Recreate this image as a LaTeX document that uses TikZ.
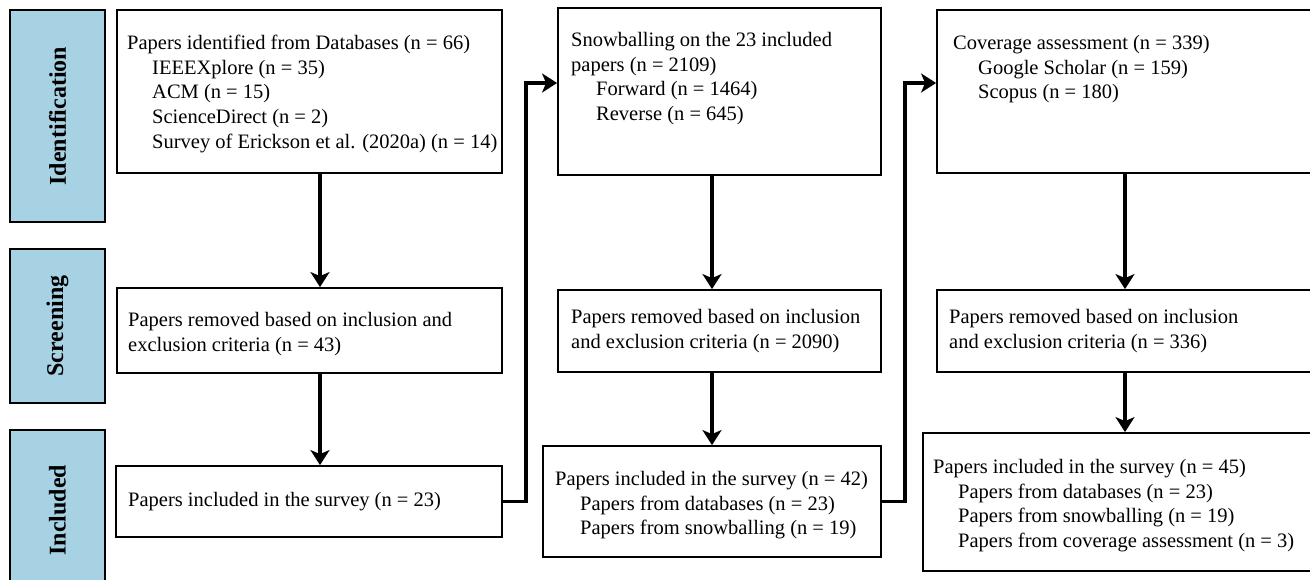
\documentclass[tikz,border=0pt]{standalone}
\usepackage{fontspec}
\setmainfont{Liberation Serif}
\usetikzlibrary{arrows.meta}

\definecolor{stageblue}{RGB}{167,210,227}
\newcommand{\idt}{\hspace*{25pt}}

\begin{document}
\begin{tikzpicture}[
                x=1pt, y=-1pt,
                stage/.style={draw, line width=1.6pt, fill=stageblue, rotate=90, inner sep=0pt,
                    font=\fontsize{24}{28}\selectfont\bfseries},
                stepbox/.style={draw, line width=1.8pt, inner sep=0pt},
                txt/.style={anchor=north west, inner sep=0pt, align=left,
                    font=\fontsize{20.5}{24.6}\selectfont},
                flow/.style={line width=3.5pt, -{Stealth[length=15pt, width=19pt, inset=4pt]}}
            ]
            \useasboundingbox (0, 0) rectangle (1310, 579);

            \node[stage, minimum width=212, minimum height=95] (stageid) at (57.5, 116) {Identification};
            \node[stage, minimum width=154, minimum height=95] (stagescr) at (57.5, 326) {Screening};
            \node[stage, minimum width=160, minimum height=95] (stageinc) at (57.5, 510) {Included};

            \node[stepbox, minimum width=385, minimum height=163] (ident1) at (309.5, 91.5) {};
            \node[stepbox, minimum width=385, minimum height=85] (screen1) at (309.5, 330.5) {};
            \node[stepbox, minimum width=386, minimum height=71] (incl1) at (309, 501.5) {};

            \node[stepbox, minimum width=323, minimum height=167] (ident2) at (719.5, 91.5) {};
            \node[stepbox, minimum width=323, minimum height=82] (screen2) at (719.5, 331) {};
            \node[stepbox, minimum width=338, minimum height=111] (incl2) at (712, 501.5) {};

            \node[stepbox, minimum width=377, minimum height=163] (ident3) at (1125.5, 91.5) {};
            \node[stepbox, minimum width=377, minimum height=82] (screen3) at (1125.5, 331) {};
            \node[stepbox, minimum width=391, minimum height=138] (incl3) at (1118.5, 502) {};

            \node[txt] (ident1txt) at (127, 35) {Papers identified from Databases (n = 66)\\
                \idt IEEEXplore (n = 35)\\ \idt ACM (n = 15)\\ \idt ScienceDirect (n = 2)\\
                \idt Survey of Erickson et al. (2020a) (n = 14)};
            \node[txt] (screen1txt) at (128, 312) {Papers removed based on inclusion and\\
                exclusion criteria (n = 43)};
            \node[txt] (incl1txt) at (128, 492) {Papers included in the survey (n = 23)};

            \node[txt] (ident2txt) at (571, 32) {Snowballing on the 23 included\\ papers (n = 2109)\\
                \idt Forward (n = 1464)\\ \idt Reverse (n = 645)};
            \node[txt] (screen2txt) at (571, 309) {Papers removed based on inclusion\\
                and exclusion criteria (n = 2090)};
            \node[txt] (incl2txt) at (555, 471) {Papers included in the survey (n = 42)\\
                \idt Papers from databases (n = 23)\\ \idt Papers from snowballing (n = 19)};

            \node[txt] (ident3txt) at (953, 35) {Coverage assessment (n = 339)\\
                \idt Google Scholar (n = 159)\\ \idt Scopus (n = 180)};
            \node[txt] (screen3txt) at (949, 309) {Papers removed based on inclusion\\
                and exclusion criteria (n = 336)};
            \node[txt] (incl3txt) at (933, 459) {Papers included in the survey (n = 45)\\
                \idt Papers from databases (n = 23)\\ \idt Papers from snowballing (n = 19)\\
                \idt Papers from coverage assessment (n = 3)};

            \coordinate (a1) at (320, 0);
            \coordinate (a2) at (712, 0);
            \coordinate (a3) at (1125, 0);
            \foreach \c/\a/\b in {a1/ident1/screen1, a1/screen1/incl1, a2/ident2/screen2,
                a2/screen2/incl2, a3/ident3/screen3, a3/screen3/incl3} {
                \draw[flow] (\a.south -| \c) -- (\b.north -| \c);
            }

            \coordinate (k1) at (526, 83);
            \coordinate (k2) at (905, 83);
            \draw[flow] (incl1.east) -| (k1) -- (k1 -| ident2.west);
            \draw[flow] (incl2.east) -| (k2) -- (k2 -| ident3.west);
        \end{tikzpicture}
\end{document}
